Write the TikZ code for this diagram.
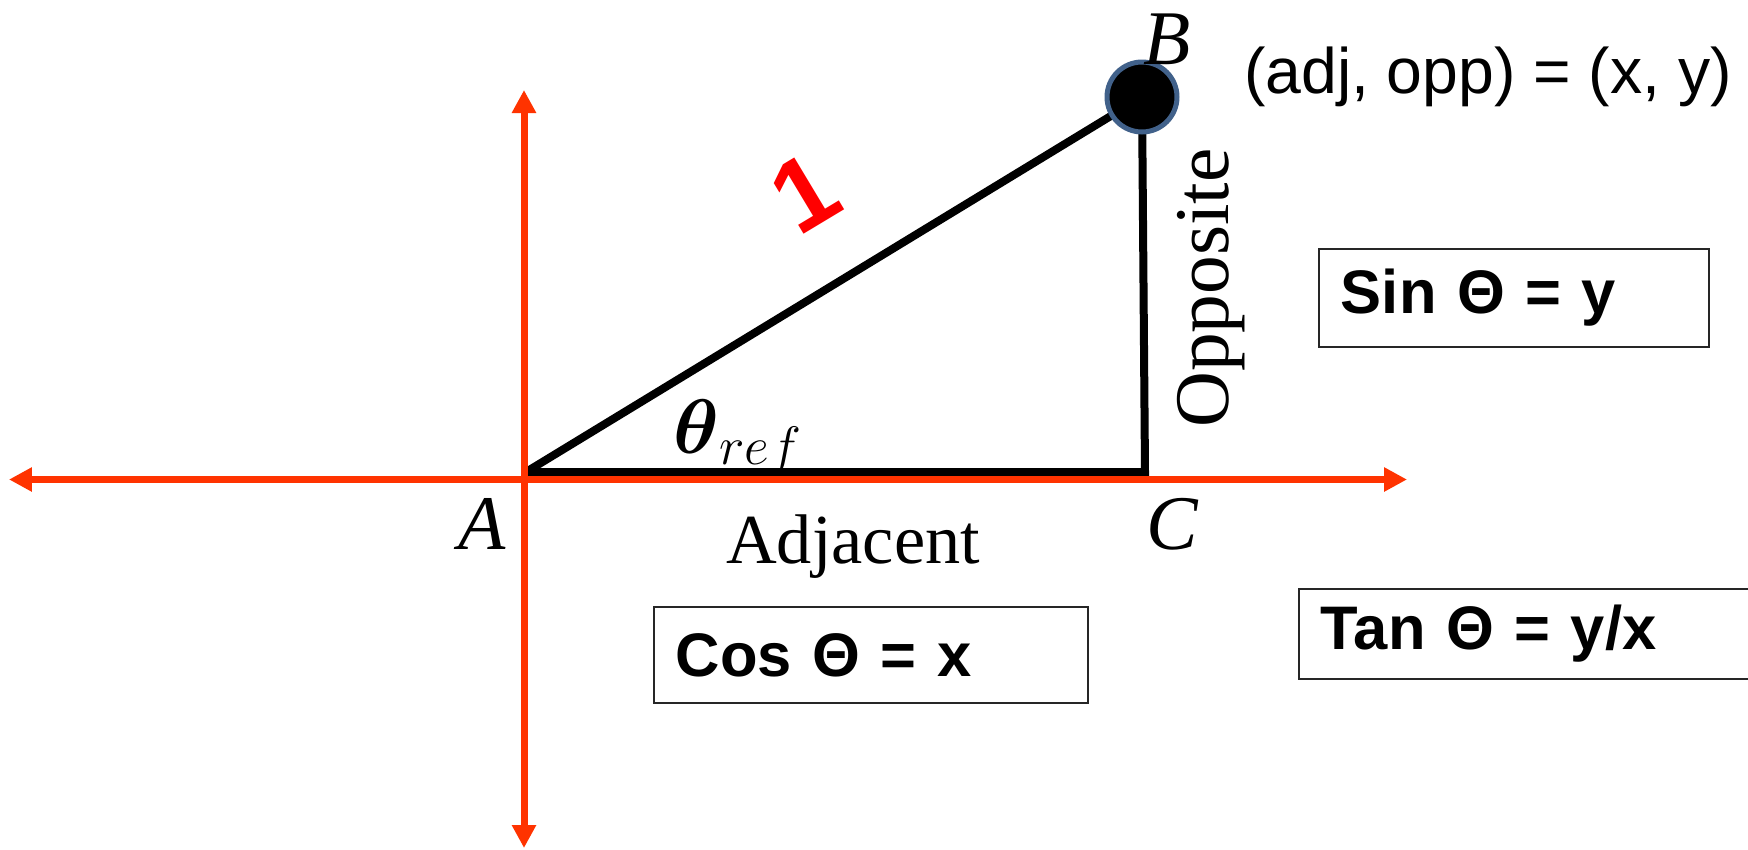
\documentclass[tikz,border=0pt]{standalone}
\usepackage{fix-cm}
\usepackage{amsmath}
\usepackage{fontspec}
\setmainfont{Liberation Serif}
\setsansfont{Liberation Sans}
\usetikzlibrary{arrows.meta}
\definecolor{axisred}{HTML}{FF3300}
\definecolor{pinblue}{HTML}{41618A}
\definecolor{onered}{HTML}{FF0000}
\tikzset{
  axisline/.style={axisred,line width=0.14cm,
    {Triangle[length=0.46cm,width=0.46cm]}-{Triangle[length=0.46cm,width=0.46cm]}},
  leg/.style={black,line width=0.16cm},
  dot/.style={circle,fill=black,draw=pinblue,line width=0.1cm,
    minimum size=1.4cm,inner sep=0pt},
  vertex/.style={font=\itshape\fontsize{44}{48}\selectfont},
  ratiobox/.style={draw=black!85,line width=1.1pt,anchor=west,align=left,
    inner xsep=0.44cm,font=\sffamily\bfseries\fontsize{35}{40}\selectfont}
}

\begin{document}
\begin{tikzpicture}[x=0.02cm,y=0.02cm]
  \useasboundingbox (0,0) rectangle (1748,-849);
  \clip (0,0) rectangle (1748,-849);

  % right triangle
  \coordinate (A) at (526,-472);
  \coordinate (C) at (1145,-472);
  \coordinate (Bpt) at (1142,-97);
  \draw[leg] (A) -- (Bpt);
  \draw[leg] (A) -- (C) -- (Bpt);

  % axes
  \coordinate (xl) at (9,-479.5);
  \coordinate (xr) at (1407,-479.5);
  \coordinate (yt) at (524,-90);
  \coordinate (yb) at (524,-848);
  \draw[axisline] (xl) -- (xr);
  \draw[axisline] (yt) -- (yb);

  \node[dot] (B) at (Bpt) {};

  % labels
  \node[vertex] (labA) at (482,-524) {A};
  \node[vertex] (labB) at (1167,-39) {B};
  \node[vertex] (labC) at (1172,-524) {C};
  \node[font=\fontsize{40}{44}\selectfont,anchor=base] (adj) at (853,-563)
    {Adjacent};
  \node[font=\fontsize{44}{48}\selectfont,anchor=base,rotate=90] (opp)
    at (1228,-288) {Opposite};
  \node[font=\fontsize{44}{48}\selectfont,anchor=base west,inner sep=0pt]
    (ang) at (673,-453) {$\boldsymbol{\theta}_{ref}$};
  \node[font=\sffamily\bfseries\fontsize{58}{62}\selectfont,text=onered,
    rotate=31] (one) at (805,-193) {1};
  \node[font=\sffamily\fontsize{36.6}{40}\selectfont,anchor=base] (pair)
    at (1488,-93) {(adj, opp) = (x, y)};

  % ratio boxes
  \node[ratiobox,text width=6.92cm,minimum height=1.96cm] (sinbox)
    at (1318,-298) {Sin Θ = y};
  \node[ratiobox,text width=7.8cm,minimum height=1.92cm] (cosbox)
    at (653,-655) {Cos Θ = x};
  \node[ratiobox,text width=8.5cm,minimum height=1.8cm] (tanbox)
    at (1298,-634) {Tan Θ = y/x};
\end{tikzpicture}
\end{document}
